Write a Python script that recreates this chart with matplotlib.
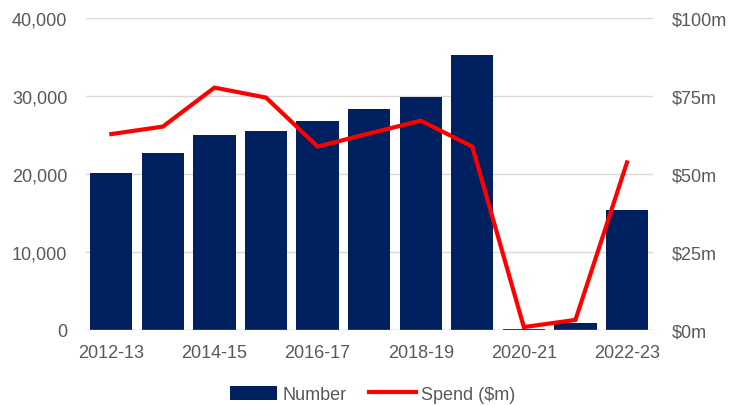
import matplotlib
matplotlib.use('Agg')
import matplotlib.pyplot as plt
import numpy as np

years = ['2012-13', '2013-14', '2014-15', '2015-16', '2016-17', '2017-18',
         '2018-19', '2019-20', '2020-21', '2021-22', '2022-23']
number = [20100, 22700, 24950, 25500, 26850, 28350, 29850, 35200, 80, 850, 15400]
spend = [62.8, 65.2, 77.7, 74.5, 58.8, 63.0, 67.1, 58.8, 0.9, 3.2, 53.7]

plt.rcParams['font.family'] = ['Liberation Sans', 'DejaVu Sans']
plt.rcParams['font.size'] = 13

grey = '#595959'
x = np.arange(len(years))

fig = plt.figure(figsize=(7.31, 4.06), dpi=100)
ax = fig.add_axes([0.117, 0.185, 0.776, 0.768])
ax2 = ax.twinx()

bars = ax.bar(x, number, width=0.82, color='#012060', label='Number', zorder=2)
line, = ax2.plot(x, spend, color='#ff0000', lw=3, label='Spend ($m)',
                 solid_joinstyle='miter')

ax.set_xlim(-0.5, len(years) - 0.5)
ax.set_ylim(0, 40000)
ax2.set_ylim(0, 100)
ax.set_yticks(np.arange(0, 40001, 10000))
ax.set_yticklabels(['{:,}'.format(v) for v in range(0, 40001, 10000)])
ax2.set_yticks(np.arange(0, 101, 25))
ax2.set_yticklabels(['$' + str(v) + 'm' for v in range(0, 101, 25)])
ax.set_xticks(x[::2])
ax.set_xticklabels(years[::2])

ax.grid(axis='y', color='#d9d9d9', lw=1, zorder=0)
ax.set_axisbelow(True)
for a in (ax, ax2):
    for s in ('top', 'left', 'right', 'bottom'):
        a.spines[s].set_visible(False)
    a.tick_params(length=0, colors=grey)
ax.axhline(0, color='#bfbfbf', lw=1, zorder=3)
ax.tick_params(axis='y', pad=13)
ax2.tick_params(axis='y', pad=14)
ax.tick_params(axis='x', pad=10)

fig.legend([bars, line], ['Number', 'Spend ($m)'], loc='lower center',
           bbox_to_anchor=(0.51, -0.035), ncol=2, frameon=False,
           handlelength=2.6, handleheight=0.8, columnspacing=1.2,
           handletextpad=0.3, labelcolor=grey)

fig.savefig('out.png', dpi=100)
